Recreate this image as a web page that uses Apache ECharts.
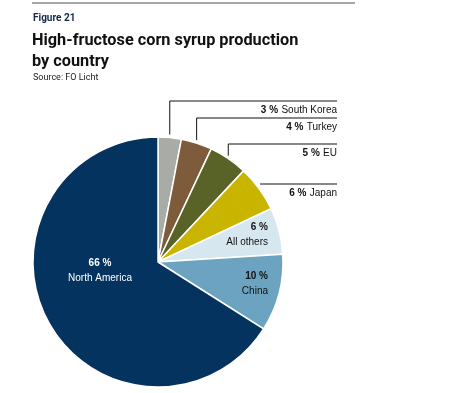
<!DOCTYPE html>
<html><head><meta charset="utf-8">
<script src="https://cdn.jsdelivr.net/npm/echarts@6/dist/echarts.min.js"></script>
<style>html,body{margin:0;padding:0;background:#fff}#c{width:463px;height:393px}</style>
</head><body><div id="c"></div>
<script>
const categories = ['South Korea', 'Turkey', 'EU', 'Japan', 'All others', 'China', 'North America'];
const values = [3, 4, 5, 6, 6, 10, 66];
const colors = ['#a9aba6', '#7d5b3b', '#5a6327', '#c9b500', '#d6e7f0', '#6ba3c1', '#04335f'];
const outside = [true, true, true, true, false, false, false];
// label layout (annotation positions)
const leaderY = [101, 118, 144, 184];
const insidePos = [null, null, null, null, [268, 234], [268, 283], [100, 270]];
const lineRight = 337;

const chart = echarts.init(document.getElementById('c'), null, {renderer: 'canvas'});
const FONT = '"Liberation Sans", Arial, sans-serif';
const TFONT = 'Roboto, "Liberation Sans", sans-serif';
chart.setOption({
  animation: false,
  graphic: [{type: 'line', shape: {x1: 32, y1: 3, x2: 355, y2: 3}, style: {stroke: '#a8a8a8', lineWidth: 2}}],
  title: [
    {text: 'Figure 21', left: 33, top: 13, padding: 0, textStyle: {fontFamily: TFONT, fontSize: 10, fontWeight: 'bold', color: '#13284a'}},
    {text: 'High-fructose corn syrup production\nby country', left: 32, top: 30, padding: 0, textStyle: {fontFamily: TFONT, fontSize: 16.3, fontWeight: 'bold', color: '#111', lineHeight: 21.5}},
    {text: 'Source: FO Licht', left: 33, top: 73, padding: 0, textStyle: {fontFamily: TFONT, fontSize: 9, fontWeight: 'normal', color: '#222'}}
  ],
  series: [{
    type: 'pie',
    center: [158, 262],
    radius: 125,
    startAngle: 90,
    clockwise: true,
    avoidLabelOverlap: false,
    itemStyle: {borderColor: '#fff', borderWidth: 1.5},
    labelLine: {show: true, length: 10, length2: 10, lineStyle: {color: '#111', width: 1}},
    data: categories.map((n, i) => ({
      name: n, value: values[i],
      itemStyle: {color: colors[i]},
      label: outside[i] ? {
        show: true, position: 'outside',
        formatter: '{v|{c} %} {n|{b}}',
        rich: {v: {fontFamily: FONT, fontSize: 10, fontWeight: 'bold', color: '#111'}, n: {fontFamily: FONT, fontSize: 10, color: '#111'}}
      } : {
        show: true, position: 'inside',
        formatter: '{v|{c} %}\n{n|{b}}',
        align: 'right',
        rich: {
          v: {fontFamily: FONT, fontSize: 10, fontWeight: 'bold', color: i === 6 ? '#fff' : '#111', align: i === 6 ? 'center' : 'right', lineHeight: 15},
          n: {fontFamily: FONT, fontSize: 10, color: i === 6 ? '#fff' : '#111', align: i === 6 ? 'center' : 'right', lineHeight: 15}
        }
      },
      labelLine: {show: outside[i]}
    }))
  }]
});
chart.setOption({
  series: [{
    labelLayout: function (params) {
      const i = params.dataIndex;
      if (outside[i]) {
        const p = params.labelLinePoints[0];
        const y = leaderY[i];
        const pts = i === 3
          ? [[p[0] + 1, y], [p[0] + 1, y], [lineRight, y]]
          : [[p[0], p[1] - 3], [p[0], y], [lineRight, y]];
        return {x: lineRight, y: y + 9, align: 'right', verticalAlign: 'middle', labelLinePoints: pts};
      }
      const q = insidePos[i];
      return {x: q[0], y: q[1] + 1, align: i === 6 ? 'center' : 'right', verticalAlign: 'middle'};
    }
  }]
});
</script></body></html>
